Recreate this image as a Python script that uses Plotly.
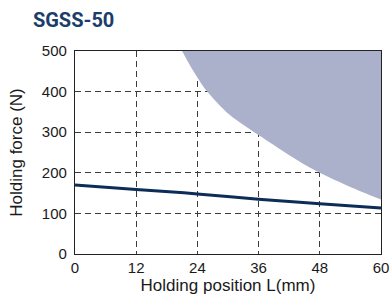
import plotly.graph_objects as go

# Holding force line
pos_mm = [0, 12, 24, 36, 48, 60]
force_n = [170, 159, 148, 135, 124, 113]

# Boundary of shaded (not allowed) region
region_x = [21.0, 22.9, 25.8, 30.2, 36, 44, 48, 54, 60]
region_y = [500, 457, 402, 344, 293, 228, 200, 165, 134]
region_top = [500] * len(region_x)

x_ticks = [0, 12, 24, 36, 48, 60]
y_ticks = [0, 100, 200, 300, 400, 500]

navy = "#0b2d57"
shade = "#abb0cb"
font_fam = "Liberation Sans, Arial, sans-serif"

fig = go.Figure()
fig.add_trace(go.Scatter(x=region_x, y=region_top, mode="lines",
                         line=dict(width=0, color=shade), hoverinfo="skip", showlegend=False))
fig.add_trace(go.Scatter(x=region_x, y=region_y, mode="lines", fill="tonexty",
                         fillcolor=shade, line=dict(width=0, color=shade, shape="spline", smoothing=0.8),
                         hoverinfo="skip", showlegend=False))
fig.add_trace(go.Scatter(x=pos_mm, y=force_n, mode="lines",
                         line=dict(width=3, color=navy, shape="spline"), showlegend=False))

axis_common = dict(showgrid=True, gridcolor="#3a3a3a", griddash="6px,4px", gridwidth=1.2,
                   showline=True, linecolor="#222222", linewidth=1.3, mirror=True,
                   zeroline=False, ticks="", layer="above traces", automargin=False,
                   tickfont=dict(family=font_fam, size=15, color="#1a1a1a"),
                   title_font=dict(family=font_fam, size=17, color="#1a1a1a"))

fig.update_xaxes(range=[0, 60], tickvals=x_ticks, title_text="Holding position L(mm)",
                 ticklabelstandoff=0, title_standoff=0, **axis_common)
fig.update_yaxes(range=[0, 500], tickvals=y_ticks, title_text="Holding force (N)",
                 ticklabelstandoff=4, title_standoff=14, **axis_common)

fig.update_layout(
    width=392, height=300,
    margin=dict(l=75, r=11, t=51, b=46),
    paper_bgcolor="white", plot_bgcolor="white",
    title=dict(text="<b>SGSS-50</b>", x=0.084, xref="container", xanchor="left",
               y=0.932, yref="container", yanchor="middle",
               font=dict(family="Roboto, Liberation Sans", size=20, color="#1b3d6b")),
)

fig.write_html("out.html", config={"displayModeBar": False},
               post_script="document.body.style.margin='0';document.body.style.overflow='hidden';")
